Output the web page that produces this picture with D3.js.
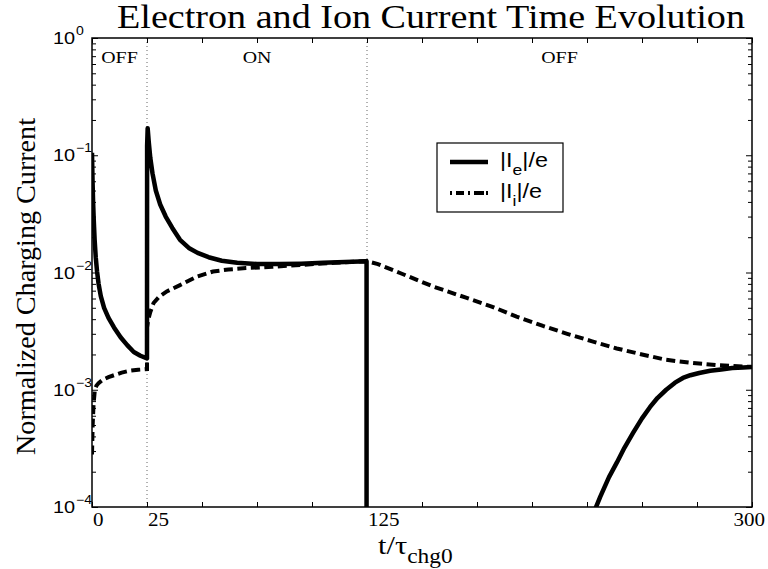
<!DOCTYPE html>
<html>
<head>
<meta charset="utf-8">
<script src="https://cdn.jsdelivr.net/npm/d3@7"></script>
<style>
body { margin: 0; background: #fff; }
</style>
</head>
<body>
<svg width="768" height="569"></svg>
<script>
// values: t/tau_chg0 and normalised |I|/e
// null breaks the line (electron current below the axis range)
var eTime = [0, 0.25, 0.5, 0.8, 1.2, 1.7, 2.3, 3, 4, 5.5, 7.5, 10, 13, 16, 19, 22, 25,
  25, 25.05, 25.3, 25.8, 26.5, 27.5, 29, 31, 33.5, 36.5, 40, 44, 48, 53, 59, 66, 75, 85, 95, 105, 115, 124.8,
  124.8, 125,
  227, 231, 235, 238.6, 242, 246, 250, 253.6, 257, 261, 265, 268.6, 272, 276, 281, 286, 291, 296, 300];
var eCurr = [0.105, 0.06, 0.04, 0.028, 0.019, 0.0135, 0.0102, 0.008, 0.0063, 0.005, 0.0041, 0.0034, 0.0028, 0.0024, 0.0021, 0.00195, 0.00185,
  0.00185, 0.12, 0.17, 0.13, 0.095, 0.07, 0.05, 0.038, 0.03, 0.024, 0.019, 0.0162, 0.0147, 0.0135, 0.0126, 0.0121, 0.0118, 0.0118, 0.0119, 0.0121, 0.0123, 0.0125,
  1e-6, null,
  8e-5, 1.22e-4, 1.8e-4, 2.4e-4, 3.2e-4, 4.3e-4, 5.7e-4, 7.1e-4, 8.5e-4, 1.0e-3, 1.15e-3, 1.26e-3, 1.33e-3, 1.39e-3, 1.45e-3, 1.49e-3, 1.53e-3, 1.55e-3, 1.56e-3];

var iTime = [0, 0.3, 0.7, 1.3, 2, 3, 5, 7.5, 10, 13.5, 17, 21, 25,
  25, 25.5, 26.5, 28, 30.5, 34, 40, 47.5, 55, 62, 70, 82, 95, 110, 125,
  130, 140, 155, 170, 182, 193, 205, 216, 227, 238.5, 250, 261, 272, 284, 300];
var iCurr = [2.8e-4, 5e-4, 7.5e-4, 1.0e-3, 1.08e-3, 1.14e-3, 1.22e-3, 1.28e-3, 1.33e-3, 1.4e-3, 1.45e-3, 1.48e-3, 1.5e-3,
  3.4e-3, 3.9e-3, 4.6e-3, 5.5e-3, 6.2e-3, 6.9e-3, 7.8e-3, 9.2e-3, 0.0102, 0.0106, 0.0109, 0.0112, 0.0116, 0.0121, 0.0125,
  0.0118, 0.0099, 0.0076, 0.0061, 0.0051, 0.0042, 0.0035, 0.003, 0.0026, 0.00225, 0.002, 0.0018, 0.0017, 0.00162, 0.00156];

var phaseBounds = [0, 25, 125, 300];
var phaseNames = ["OFF", "ON", "OFF"];
var xTicks = d3.range(0, 301, 25);
var xTickLabels = [0, 25, 125, 300];
var yDecades = [-4, -3, -2, -1, 0];

var svg = d3.select("svg");
var pLeft = 92, pRight = 752, pTop = 38, pBottom = 507;
var sx = 1.17; // the original figure text is stretched sideways

var x = d3.scaleLinear().domain([0, 300]).range([pLeft, pRight]);
var y = d3.scaleLog().domain([1e-4, 1]).range([pBottom, pTop]);

var serif = "'Liberation Serif', 'Times New Roman', serif";
var sans = "'Liberation Sans', Arial, sans-serif";

// stretched text helper
function stext(px, py, size, family, anchor) {
  return svg.append("g")
    .attr("transform", "translate(" + px + "," + py + ") scale(" + sx + ",1)")
    .append("text")
    .attr("font-family", family)
    .attr("font-size", size)
    .attr("text-anchor", anchor || "start")
    .attr("fill", "#000");
}

svg.append("clipPath").attr("id", "plotclip")
  .append("rect").attr("x", pLeft).attr("y", pTop)
  .attr("width", pRight - pLeft).attr("height", pBottom - pTop);

// phase boundaries
svg.selectAll(".phase")
  .data(phaseBounds.slice(1, 3))
  .enter().append("line")
  .attr("x1", d => x(d)).attr("x2", d => x(d))
  .attr("y1", pTop).attr("y2", pBottom)
  .attr("stroke", "#666").attr("stroke-width", 1)
  .attr("stroke-dasharray", "1,3");

// phase labels
phaseNames.forEach(function(n, i) {
  var mid = (phaseBounds[i] + phaseBounds[i + 1]) / 2;
  stext(x(mid), 63, 17, serif, "middle").text(n);
});

var line = d3.line()
  .defined(d => d[1] != null)
  .x(d => x(d[0]))
  .y(d => y(d[1]));

var ionPts = iTime.map((t, i) => [t, iCurr[i]]);
var elePts = eTime.map((t, i) => [t, eCurr[i]]);

var plot = svg.append("g").attr("clip-path", "url(#plotclip)");
plot.append("path").attr("d", line(ionPts))
  .attr("fill", "none").attr("stroke", "#000").attr("stroke-width", 4)
  .attr("stroke-dasharray", "9,4.5");
plot.append("path").attr("d", line(elePts))
  .attr("fill", "none").attr("stroke", "#000").attr("stroke-width", 4.5)
  .attr("stroke-linejoin", "round");

// x ticks, bottom and top (inward)
svg.append("g").attr("transform", "translate(0," + pBottom + ")")
  .call(d3.axisBottom(x).tickValues(xTicks).tickSize(-5).tickFormat(""))
  .call(g => g.select(".domain").remove());
svg.append("g").attr("transform", "translate(0," + pTop + ")")
  .call(d3.axisTop(x).tickValues(xTicks).tickSize(-5).tickFormat(""))
  .call(g => g.select(".domain").remove());

// y ticks, log major + minor
var minor = [];
yDecades.slice(0, 4).forEach(function(p) {
  for (var k = 2; k <= 9; k++) minor.push(k * Math.pow(10, p));
});
var major = yDecades.map(p => Math.pow(10, p));
[[d3.axisLeft, pLeft], [d3.axisRight, pRight]].forEach(function(a) {
  svg.append("g").attr("transform", "translate(" + a[1] + ",0)")
    .call(a[0](y).tickValues(major).tickSize(-6).tickFormat(""))
    .call(g => g.select(".domain").remove());
  svg.append("g").attr("transform", "translate(" + a[1] + ",0)")
    .call(a[0](y).tickValues(minor).tickSize(-4).tickFormat(""))
    .call(g => g.select(".domain").remove());
});
svg.selectAll(".tick line").attr("stroke", "#000").attr("stroke-width", 1);

// frame
svg.append("rect").attr("x", pLeft).attr("y", pTop)
  .attr("width", pRight - pLeft).attr("height", pBottom - pTop)
  .attr("fill", "none").attr("stroke", "#000").attr("stroke-width", 1.5);

// x tick labels
xTickLabels.forEach(function(v, i) {
  var last = i == xTickLabels.length - 1;
  stext(x(v) + (last ? 13 : 1), 526, 18, serif, last ? "end" : "start").text(v);
});

// y tick labels 10^n
yDecades.forEach(function(p) {
  var yy = y(Math.pow(10, p));
  stext(75, yy + 6, 17, sans, "end").text("10");
  stext(76, yy - 3, 12, sans, "start").text(p == 0 ? "0" : "\u2212" + (-p));
});

// title
svg.append("text").attr("x", 117).attr("y", 28)
  .attr("font-family", serif).attr("font-size", 33)
  .attr("textLength", 628).attr("lengthAdjust", "spacingAndGlyphs")
  .text("Electron and Ion Current Time Evolution");

// y axis title
svg.append("text")
  .attr("transform", "translate(35,455) rotate(-90)")
  .attr("font-family", serif).attr("font-size", 28)
  .attr("textLength", 337).attr("lengthAdjust", "spacingAndGlyphs")
  .text("Normalized Charging Current");

// x axis title
var xt = stext(378, 554, 26, serif, "start");
xt.append("tspan").text("t/\u03c4");
xt.append("tspan").attr("dy", 9).attr("font-size", 20).text("chg0");

// legend
svg.append("rect").attr("x", 437).attr("y", 143).attr("width", 126).attr("height", 69)
  .attr("fill", "#fff").attr("stroke", "#000").attr("stroke-width", 1.2);
var legendRows = [
  { sub: "e", width: 4.5, dash: null },
  { sub: "i", width: 3.8, dash: "2,4,8,4,2,4,10" }
];
legendRows.forEach(function(r, i) {
  var ly = 162 + i * 31;
  svg.append("line").attr("x1", 450).attr("x2", 488).attr("y1", ly).attr("y2", ly)
    .attr("stroke", "#000").attr("stroke-width", r.width)
    .attr("stroke-dasharray", r.dash);
  var t = stext(500, ly + 5, 20, sans, "start");
  t.append("tspan").text("|I");
  t.append("tspan").attr("dy", 8).attr("font-size", 15).text(r.sub);
  t.append("tspan").attr("dy", -8).text("|/e");
});
</script>
</body>
</html>
